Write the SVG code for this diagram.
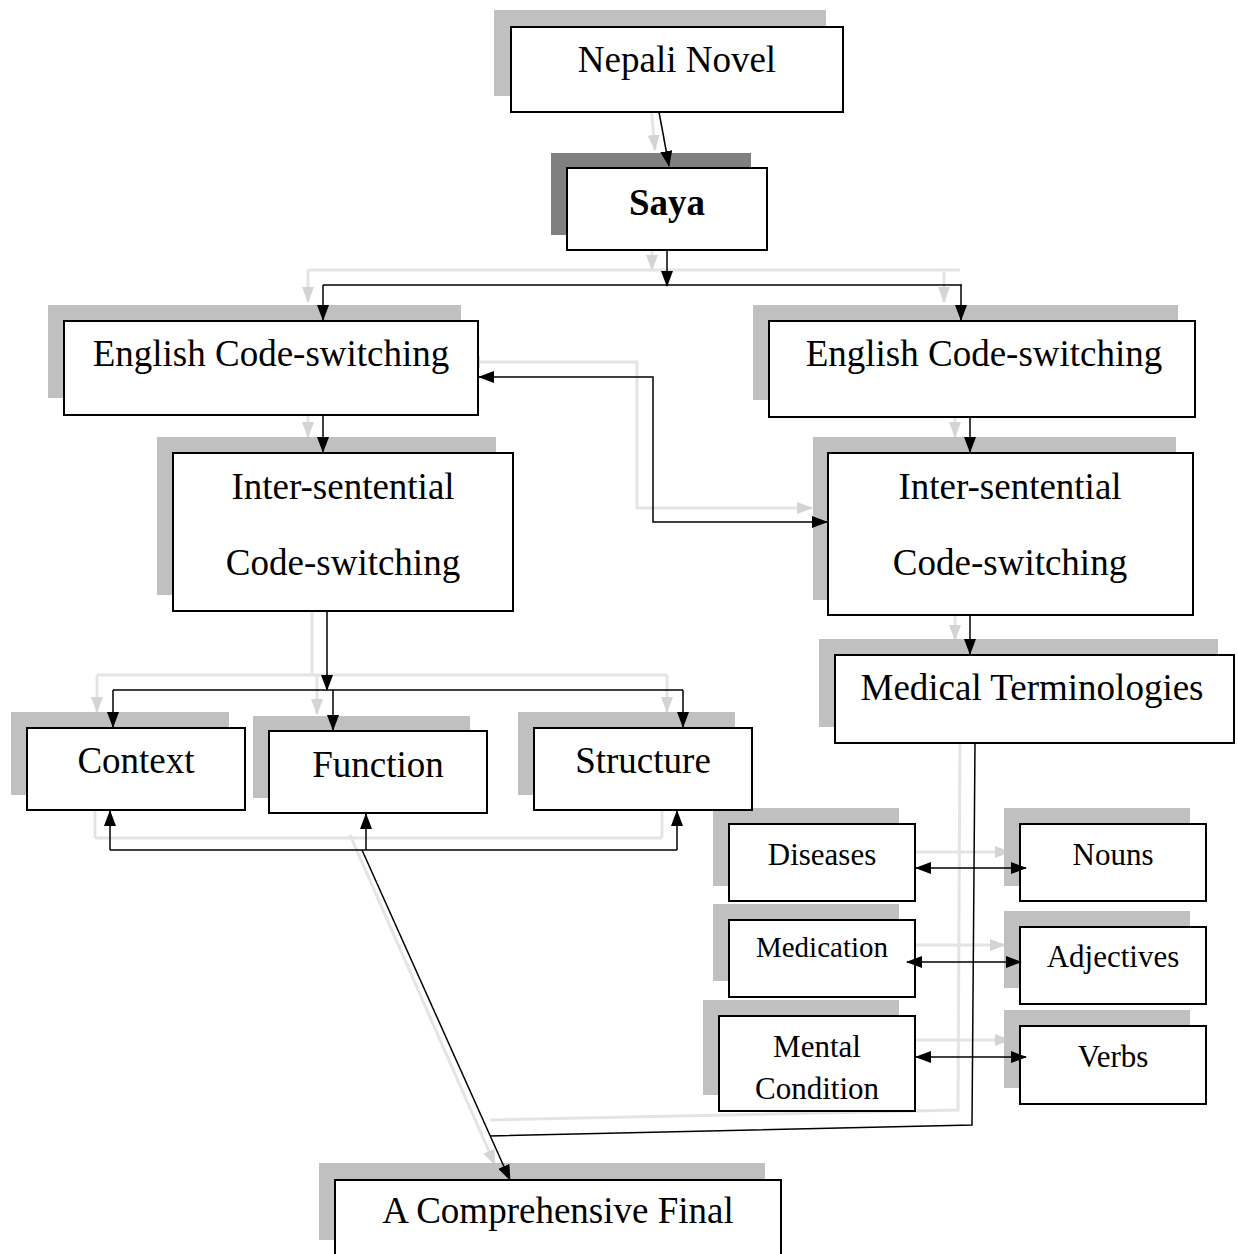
<svg xmlns="http://www.w3.org/2000/svg" width="1238" height="1254" viewBox="0 0 1238 1254">
<defs>
<marker id="ah" markerUnits="userSpaceOnUse" markerWidth="16" markerHeight="12" refX="15" refY="6" orient="auto-start-reverse" viewBox="0 0 16 12"><path d="M0,0 L16,6 L0,12 z" fill="#000"/></marker>
<marker id="gh" markerUnits="userSpaceOnUse" markerWidth="16" markerHeight="12" refX="15" refY="6" orient="auto-start-reverse" viewBox="0 0 16 12"><path d="M0,0 L16,6 L0,12 z" fill="#d4d4d4"/></marker>
<style>
.sh{fill:#c0c0c0}
.shd{fill:#808080}
.bx{fill:#fff;stroke:#000;stroke-width:2}
.t{font-family:"Liberation Serif","Times New Roman",serif;font-size:37px;fill:#000;text-anchor:middle}
.s{font-size:31px}
.m{font-size:29px}
.c{fill:none;stroke:#000;stroke-width:1.5}
.g{fill:none;stroke:#e4e4e4;stroke-width:3}
</style>
</defs>
<rect width="1238" height="1254" fill="#fff"/>

<g id="ghosts">
<path class="g" d="M650,95 L655,150" marker-end="url(#gh)"/>
<path class="g" d="M652,235 L652,270" marker-end="url(#gh)"/>
<path class="g" d="M308,270 L960,270"/>
<path class="g" d="M308,270 L308,302" marker-end="url(#gh)"/>
<path class="g" d="M944,270 L944,302" marker-end="url(#gh)"/>
<path class="g" d="M308,400 L308,437" marker-end="url(#gh)"/>
<path class="g" d="M955,400 L955,437" marker-end="url(#gh)"/>
<path class="g" d="M465,362 L637,362 L637,508 L812,508" marker-start="url(#gh)" marker-end="url(#gh)"/>
<path class="g" d="M955,600 L955,640" marker-end="url(#gh)"/>
<path class="g" d="M312,595 L312,675"/>
<path class="g" d="M97,675 L667,675"/>
<path class="g" d="M97,675 L97,712" marker-end="url(#gh)"/>
<path class="g" d="M317,675 L317,714" marker-end="url(#gh)"/>
<path class="g" d="M667,675 L667,712" marker-end="url(#gh)"/>
<path class="g" d="M95,838 L662,838"/>
<path class="g" d="M95,838 L95,795" marker-end="url(#gh)"/>
<path class="g" d="M662,838 L662,795" marker-end="url(#gh)"/>
<path class="g" d="M350,835 L495,1165" marker-end="url(#gh)"/>
<path class="g" d="M960,728 L958,1110 L490,1120"/>
<path class="g" d="M900,852 L1010,852" marker-start="url(#gh)" marker-end="url(#gh)"/>
<path class="g" d="M895,945 L1005,945" marker-start="url(#gh)" marker-end="url(#gh)"/>
<path class="g" d="M900,1040 L1010,1040" marker-start="url(#gh)" marker-end="url(#gh)"/>
</g>

<g id="shadows">
<rect class="sh" x="494" y="10" width="332" height="86"/>
<rect class="shd" x="551" y="153" width="200" height="82"/>
<rect class="sh" x="48" y="305" width="413" height="93"/>
<rect class="sh" x="753" y="305" width="425" height="95"/>
<rect class="sh" x="157" y="437" width="339" height="158"/>
<rect class="sh" x="813" y="437" width="363" height="163"/>
<rect class="sh" x="819" y="639" width="399" height="88"/>
<rect class="sh" x="11" y="712" width="218" height="83"/>
<rect class="sh" x="253" y="716" width="217" height="82"/>
<rect class="sh" x="518" y="712" width="217" height="83"/>
<rect class="sh" x="713" y="808" width="186" height="78"/>
<rect class="sh" x="713" y="904" width="186" height="77"/>
<rect class="sh" x="703" y="1000" width="196" height="95"/>
<rect class="sh" x="1004" y="808" width="186" height="78"/>
<rect class="sh" x="1004" y="911" width="186" height="77"/>
<rect class="sh" x="1004" y="1010" width="186" height="78"/>
<rect class="sh" x="319" y="1163" width="446" height="77"/>
</g>

<g id="n-nepali"><rect class="bx" x="511" y="27" width="332" height="85"/><text class="t" x="677" y="72">Nepali Novel</text></g>
<g id="n-saya"><rect class="bx" x="567" y="168" width="200" height="82"/><text class="t" x="667" y="215" font-weight="bold">Saya</text></g>
<g id="n-eng-left"><rect class="bx" x="64" y="321" width="414" height="94"/><text class="t" x="271" y="366">English Code-switching</text></g>
<g id="n-eng-right"><rect class="bx" x="769" y="321" width="426" height="96"/><text class="t" x="984" y="366">English Code-switching</text></g>
<g id="n-inter-left"><rect class="bx" x="173" y="453" width="340" height="158"/><text class="t" x="343" y="499">Inter-sentential</text><text class="t" x="343" y="575">Code-switching</text></g>
<g id="n-inter-right"><rect class="bx" x="828" y="453" width="365" height="162"/><text class="t" x="1010" y="499">Inter-sentential</text><text class="t" x="1010" y="575">Code-switching</text></g>
<g id="n-medical"><rect class="bx" x="835" y="655" width="399" height="88"/><text class="t" x="1032" y="700">Medical Terminologies</text></g>
<g id="n-context"><rect class="bx" x="27" y="728" width="218" height="82"/><text class="t" x="136" y="773">Context</text></g>
<g id="n-function"><rect class="bx" x="269" y="731" width="218" height="82"/><text class="t" x="378" y="777">Function</text></g>
<g id="n-structure"><rect class="bx" x="534" y="728" width="218" height="82"/><text class="t" x="643" y="773">Structure</text></g>
<g id="n-diseases"><rect class="bx" x="729" y="824" width="186" height="77"/><text class="t s" x="822" y="865">Diseases</text></g>
<g id="n-medication"><rect class="bx" x="729" y="920" width="186" height="77"/><text class="t m" x="822" y="957">Medication</text></g>
<g id="n-mental"><rect class="bx" x="719" y="1016" width="196" height="95"/><text class="t s" x="817" y="1057">Mental</text><text class="t s" x="817" y="1099">Condition</text></g>
<g id="n-nouns"><rect class="bx" x="1020" y="824" width="186" height="77"/><text class="t s" x="1113" y="865">Nouns</text></g>
<g id="n-adjectives"><rect class="bx" x="1020" y="927" width="186" height="77"/><text class="t s" x="1113" y="967">Adjectives</text></g>
<g id="n-verbs"><rect class="bx" x="1020" y="1026" width="186" height="78"/><text class="t s" x="1113" y="1067">Verbs</text></g>
<g id="n-final"><rect class="bx" x="335" y="1180" width="446" height="90"/><text class="t" x="558" y="1223">A Comprehensive Final</text></g>

<g id="connectors">
<path class="c" d="M659,112 L669,166" marker-end="url(#ah)"/>
<path class="c" d="M667,250 L667,286" marker-end="url(#ah)"/>
<path class="c" d="M323,285 L962,285"/>
<path class="c" d="M323,285 L323,320" marker-end="url(#ah)"/>
<path class="c" d="M961,285 L961,320" marker-end="url(#ah)"/>
<path class="c" d="M323,415 L323,452" marker-end="url(#ah)"/>
<path class="c" d="M970,417 L970,452" marker-end="url(#ah)"/>
<path class="c" d="M479,377 L653,377 L653,522 L827,522" marker-start="url(#ah)" marker-end="url(#ah)"/>
<path class="c" d="M970,615 L970,654" marker-end="url(#ah)"/>
<path class="c" d="M327,611 L327,690" marker-end="url(#ah)"/>
<path class="c" d="M113,690 L683,690"/>
<path class="c" d="M113,690 L113,727" marker-end="url(#ah)"/>
<path class="c" d="M333,690 L333,730" marker-end="url(#ah)"/>
<path class="c" d="M683,690 L683,727" marker-end="url(#ah)"/>
<path class="c" d="M110,850 L677,850"/>
<path class="c" d="M110,850 L110,811" marker-end="url(#ah)"/>
<path class="c" d="M366,850 L366,814" marker-end="url(#ah)"/>
<path class="c" d="M362,850 L510,1180" marker-end="url(#ah)"/>
<path class="c" d="M677,850 L677,811" marker-end="url(#ah)"/>
<path class="c" d="M975,743 L972,1125 L490,1136"/>
<path class="c" d="M916,868 L1026,868" marker-start="url(#ah)" marker-end="url(#ah)"/>
<path class="c" d="M907,962 L1021,962" marker-start="url(#ah)" marker-end="url(#ah)"/>
<path class="c" d="M916,1057 L1026,1057" marker-start="url(#ah)" marker-end="url(#ah)"/>
</g>
</svg>
